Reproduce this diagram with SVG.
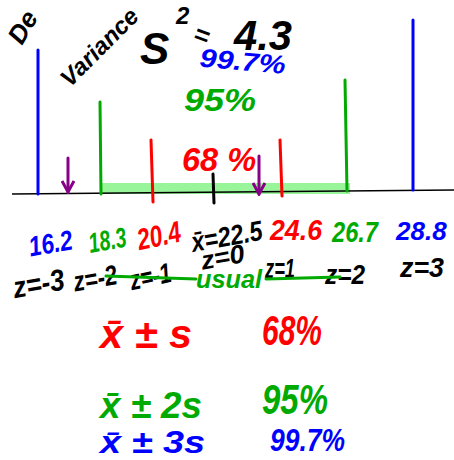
<svg xmlns="http://www.w3.org/2000/svg" width="454" height="460" viewBox="0 0 454 460">
<style>
.t{font-family:"Liberation Sans","DejaVu Sans",sans-serif;font-style:italic;font-weight:bold}
.k{fill:#000}.r{fill:#f00}.g{fill:#0a0}.b{fill:#00f}
.ln{stroke-width:3;stroke-linecap:round;fill:none}
</style>
<defs>
<marker id="pa" markerWidth="14" markerHeight="14" refX="12" refY="7" orient="auto" markerUnits="userSpaceOnUse"><path d="M1,1 L12,7 L1,13" fill="none" stroke="#808" stroke-width="3"/></marker>
</defs>
<rect width="454" height="460" fill="#fff"/>
<g id="title">
<text class="t k" x="22" y="46" font-size="26" transform="rotate(-60 22 46)">De</text>
<text class="t k" x="70" y="88" font-size="24" transform="rotate(-45 70 88)">Variance</text>
<text class="t k" x="140" y="64" font-size="44">S</text>
<text class="t k" x="176" y="24" font-size="24">2</text>
<text class="t k" x="194" y="44" font-size="26" transform="rotate(20 202 36)">=</text>
<text class="t k" x="234" y="50" font-size="42" textLength="58" lengthAdjust="spacingAndGlyphs">4.3</text>
</g>
<g id="percent-top">
<text class="t b" x="200" y="70" font-size="26" textLength="86" lengthAdjust="spacingAndGlyphs" transform="rotate(5 240 58)">99.7%</text>
<text class="t g" x="184" y="111" font-size="32" textLength="72" lengthAdjust="spacingAndGlyphs">95%</text>
<text class="t r" x="182" y="171" font-size="34" textLength="74" lengthAdjust="spacingAndGlyphs">68 %</text>
</g>
<g id="axis">
<rect x="100" y="183" width="250" height="11" fill="#5e5" opacity="0.6"/>
<line x1="12" y1="194" x2="454" y2="190" stroke="#000" stroke-width="1.5"/>
</g>
<g id="ticks" class="ln">
<line x1="38" y1="50" x2="38" y2="194" stroke="#00f"/>
<line x1="413" y1="20" x2="413" y2="190" stroke="#00f"/>
<line x1="100" y1="102" x2="101" y2="194" stroke="#0a0"/>
<line x1="345" y1="80" x2="347" y2="191" stroke="#0a0"/>
<line x1="151" y1="140" x2="153" y2="202" stroke="#f00"/>
<line x1="280" y1="140" x2="282" y2="196" stroke="#f00"/>
<line x1="213" y1="174" x2="214" y2="203" stroke="#000"/>
<line x1="68" y1="158" x2="68" y2="192" stroke="#808" marker-end="url(#pa)"/>
<line x1="259" y1="156" x2="259" y2="194" stroke="#808" marker-end="url(#pa)"/>
</g>
<g id="values">
<text class="t b" x="28" y="253" font-size="28" textLength="44" lengthAdjust="spacingAndGlyphs" transform="rotate(-10 50 240)">16.2</text>
<text class="t g" x="88" y="250" font-size="28" textLength="38" lengthAdjust="spacingAndGlyphs" transform="rotate(-10 106 238)">18.3</text>
<text class="t r" x="136" y="246" font-size="30" textLength="44" lengthAdjust="spacingAndGlyphs" transform="rotate(-12 158 232)">20.4</text>
<text class="t k" x="190" y="246" font-size="28" textLength="72" lengthAdjust="spacingAndGlyphs" transform="rotate(-10 226 232)">x̄=22.5</text>
<text class="t r" x="270" y="240" font-size="30" textLength="52" lengthAdjust="spacingAndGlyphs">24.6</text>
<text class="t g" x="332" y="242" font-size="30" textLength="46" lengthAdjust="spacingAndGlyphs">26.7</text>
<text class="t b" x="396" y="240" font-size="26">28.8</text>
</g>
<g id="zlabels">
<text class="t k" x="12" y="294" font-size="30" textLength="52" lengthAdjust="spacingAndGlyphs" transform="rotate(-10 38 280)">z=-3</text>
<text class="t k" x="72" y="288" font-size="28" textLength="44" lengthAdjust="spacingAndGlyphs" transform="rotate(-10 94 272)">z=-2</text>
<text class="t k" x="128" y="286" font-size="28" textLength="42" lengthAdjust="spacingAndGlyphs" transform="rotate(-12 150 270)">z=-1</text>
<text class="t k" x="200" y="266" font-size="26" textLength="44" lengthAdjust="spacingAndGlyphs" transform="rotate(-10 222 254)">z=0</text>
<text class="t k" x="265" y="278" font-size="28" textLength="30" lengthAdjust="spacingAndGlyphs">z=1</text>
<text class="t k" x="325" y="284" font-size="28" textLength="40" lengthAdjust="spacingAndGlyphs">z=2</text>
<text class="t k" x="400" y="277" font-size="28" textLength="44" lengthAdjust="spacingAndGlyphs">z=3</text>
</g>
<g id="usual" class="ln">
<line x1="106" y1="276" x2="196" y2="279" stroke="#0a0"/>
<line x1="266" y1="279" x2="340" y2="277" stroke="#0a0"/>
</g>
<text class="t g" x="196" y="288" font-size="26" textLength="66" lengthAdjust="spacingAndGlyphs">usual</text>
<g id="rules">
<text class="t r" x="100" y="348" font-size="40" textLength="92" lengthAdjust="spacingAndGlyphs">x̄ ± s</text>
<text class="t r" x="262" y="345" font-size="42" textLength="60" lengthAdjust="spacingAndGlyphs">68%</text>
<text class="t g" x="100" y="418" font-size="36" textLength="102" lengthAdjust="spacingAndGlyphs">x̄ ± 2s</text>
<text class="t g" x="262" y="414" font-size="42" textLength="66" lengthAdjust="spacingAndGlyphs">95%</text>
<text class="t b" x="100" y="453" font-size="32" textLength="105" lengthAdjust="spacingAndGlyphs">x̄ ± 3s</text>
<text class="t b" x="270" y="451" font-size="32" textLength="75" lengthAdjust="spacingAndGlyphs">99.7%</text>
</g>
</svg>
